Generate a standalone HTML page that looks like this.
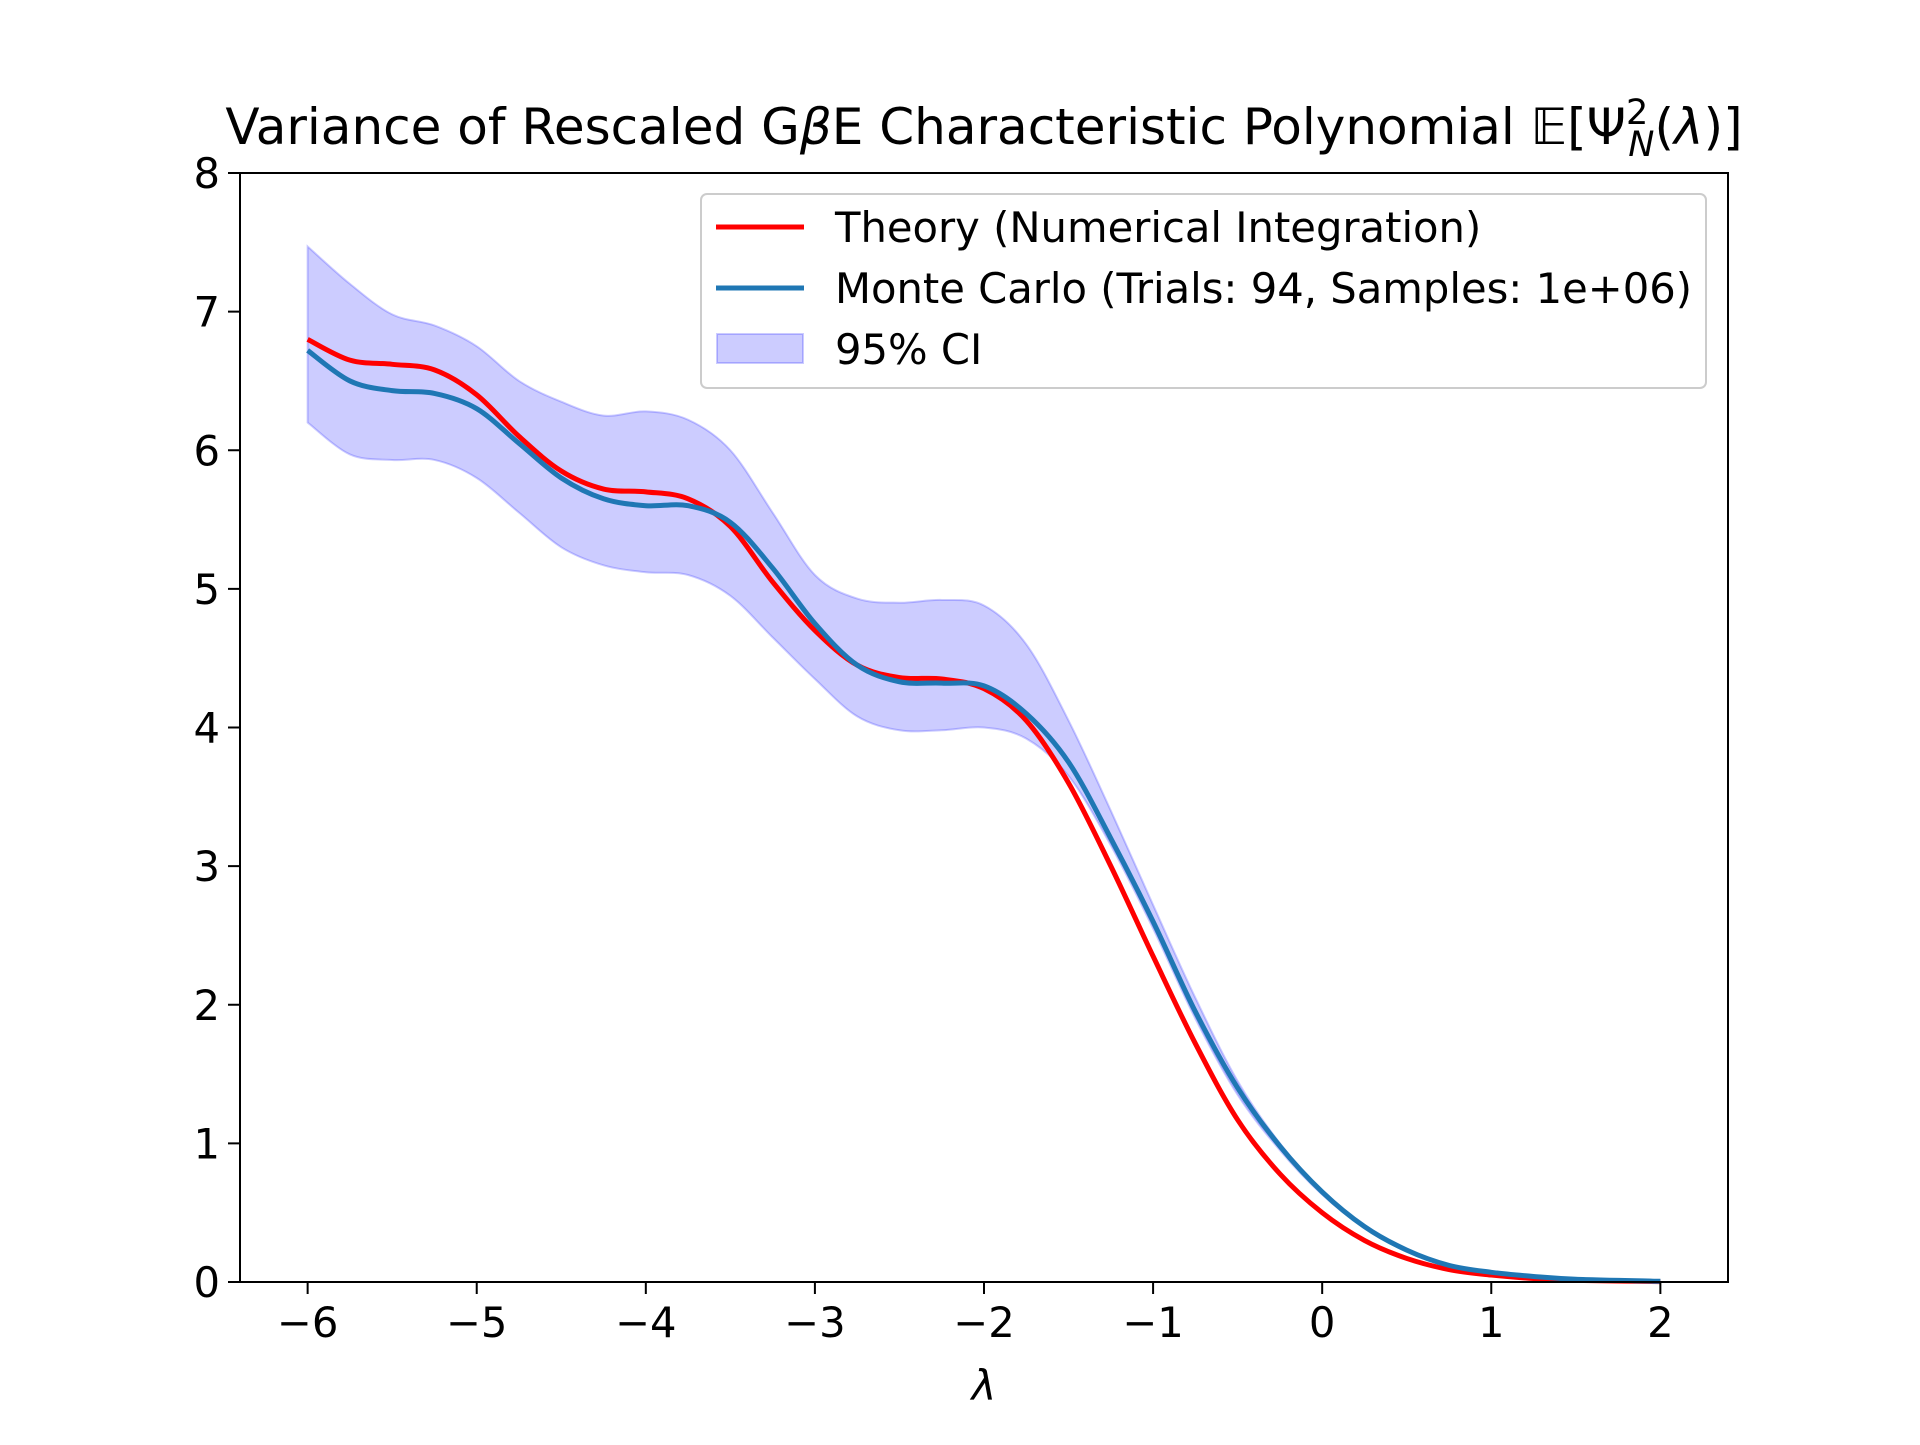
<!DOCTYPE html>
<html><head><meta charset="utf-8"><style>
body{margin:0;background:#fff}
svg text{font-family:"DejaVu Sans","Liberation Sans",sans-serif;fill:#000}
</style></head><body>
<svg id="chart" width="1920" height="1440" xmlns="http://www.w3.org/2000/svg">
<rect width="1920" height="1440" fill="#fff"/>
<g id="plot"></g>
</svg>
<script>
const xs=[-6,-5.75,-5.5,-5.25,-5,-4.75,-4.5,-4.25,-4,-3.75,-3.5,-3.25,-3,-2.75,-2.5,-2.25,-2,-1.75,-1.5,-1.25,-1,-0.75,-0.5,-0.25,0,0.25,0.5,0.75,1,1.25,1.5,2];
const theory=[6.8,6.65,6.62,6.58,6.4,6.1,5.85,5.72,5.7,5.65,5.45,5.05,4.7,4.45,4.36,4.35,4.28,4.05,3.6,3.0,2.35,1.72,1.17,0.78,0.5,0.3,0.17,0.09,0.05,0.025,0.012,0.003];
const monteCarlo=[6.72,6.5,6.43,6.41,6.3,6.05,5.8,5.65,5.6,5.6,5.48,5.15,4.75,4.45,4.33,4.32,4.3,4.1,3.75,3.2,2.6,1.95,1.4,0.98,0.65,0.4,0.23,0.12,0.07,0.04,0.02,0.005];
const ciUpper=[7.47,7.2,6.98,6.9,6.75,6.5,6.35,6.25,6.28,6.22,6.0,5.55,5.1,4.93,4.9,4.92,4.88,4.6,4.05,3.4,2.72,2.05,1.45,1.0,0.66,0.41,0.24,0.125,0.072,0.041,0.021,0.005];
const ciLower=[6.2,5.97,5.93,5.93,5.8,5.55,5.3,5.17,5.12,5.1,4.95,4.65,4.35,4.08,3.98,3.98,4.0,3.92,3.65,3.15,2.55,1.9,1.35,0.95,0.63,0.39,0.22,0.115,0.068,0.039,0.019,0.005];
const xTicks=[-6,-5,-4,-3,-2,-1,0,1,2];
const yTicks=[0,1,2,3,4,5,6,7,8];
const L=240,R=1728,T=173,B=1282;
const X=v=>L+(v+6.4)/8.8*(R-L);
const Y=v=>B-v/8*(B-T);
const NS="http://www.w3.org/2000/svg";
const g=document.getElementById('plot');
function mk(t,a,p){const e=document.createElementNS(NS,t);for(const k in a)e.setAttribute(k,a[k]);(p||g).appendChild(e);return e;}
function spline(pts){let d=`M${pts[0][0]},${pts[0][1]}`;for(let i=0;i<pts.length-1;i++){const p0=pts[Math.max(0,i-1)],p1=pts[i],p2=pts[i+1],p3=pts[Math.min(pts.length-1,i+2)];
const c1=[p1[0]+(p2[0]-p0[0])/6,p1[1]+(p2[1]-p0[1])/6],c2=[p2[0]-(p3[0]-p1[0])/6,p2[1]-(p3[1]-p1[1])/6];
d+=`C${c1[0]},${c1[1]} ${c2[0]},${c2[1]} ${p2[0]},${p2[1]}`;}return d;}
const up=xs.map((x,i)=>[X(x),Y(ciUpper[i])]);
const lo=xs.map((x,i)=>[X(x),Y(ciLower[i])]).reverse();
const band=mk('path',{d:spline(up)+spline(lo).replace('M','L')+'Z',fill:'rgba(0,0,255,0.2)',stroke:'rgba(0,0,255,0.2)','stroke-width':2});


const tl=mk('path',{d:spline(xs.map((x,i)=>[X(x),Y(theory[i])])),fill:'none',stroke:'#ff0000','stroke-width':5});


const ml=mk('path',{d:spline(xs.map((x,i)=>[X(x),Y(monteCarlo[i])])),fill:'none',stroke:'#1f77b4','stroke-width':5});


const ax=mk('rect',{x:L,y:T,width:R-L,height:B-T,fill:'none',stroke:'#000','stroke-width':2});


xTicks.forEach(v=>{mk('line',{x1:X(v),x2:X(v),y1:B,y2:B+12,stroke:'#000','stroke-width':2});
const t=mk('text',{x:X(v),y:B+55,'font-size':41.7,'text-anchor':'middle'});t.textContent=(v<0?'\u2212':'')+Math.abs(v);

});
yTicks.forEach(v=>{mk('line',{x1:L-12,x2:L,y1:Y(v),y2:Y(v),stroke:'#000','stroke-width':2});
const t=mk('text',{x:L-20,y:Y(v)+15,'font-size':41.7,'text-anchor':'end'});t.textContent=v;

});
</script>
<svg style="position:absolute;left:0;top:0" width="1920" height="1440" xmlns="http://www.w3.org/2000/svg">
<text x="984" y="144" font-size="50" text-anchor="middle">Variance of Rescaled G<tspan font-style="italic">β</tspan>E Characteristic Polynomial 𝔼[Ψ<tspan font-size="35" dy="-20">2</tspan><tspan font-size="35" dx="-20" dy="32" font-style="italic">N</tspan><tspan dy="-12">(</tspan><tspan font-style="italic">λ</tspan>)]</text>
<text x="984" y="1400" font-size="41.7" font-style="italic" text-anchor="middle">λ</text>
<g>
<rect x="701" y="194" width="1005" height="194" rx="6" fill="rgba(255,255,255,0.8)" stroke="#ccc" stroke-width="2"/>
<line x1="716" x2="804" y1="227" y2="227" stroke="#ff0000" stroke-width="5"/>
<text x="835" y="242" font-size="41.7">Theory (Numerical Integration)</text>
<line x1="716" x2="804" y1="288" y2="288" stroke="#1f77b4" stroke-width="5"/>
<text x="835" y="303" font-size="41.7">Monte Carlo (Trials: 94, Samples: 1e+06)</text>
<rect x="717" y="334" width="86" height="29" fill="rgba(0,0,255,0.2)" stroke="rgba(0,0,255,0.2)" stroke-width="2"/>
<text x="835" y="364" font-size="41.7">95% CI</text>
</g>
</svg>
</body></html>
